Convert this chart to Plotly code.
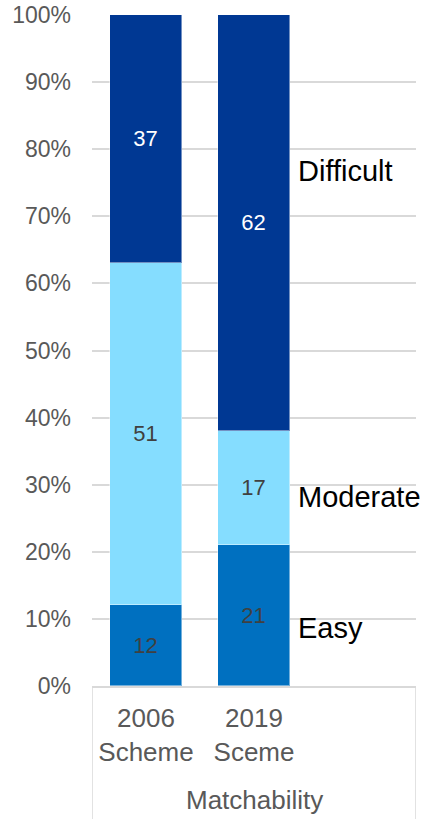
import plotly.graph_objects as go

# Share of matches by difficulty for each scheme (percent of total)
categories = ["2006<br>Scheme", "2019<br>Sceme"]
series_names = ["Easy", "Moderate", "Difficult"]
easy = [12, 21]
moderate = [51, 17]
difficult = [37, 62]
group_title = "Matchability"

series_values = [easy, moderate, difficult]
colors = {"Easy": "#0070C0", "Moderate": "#85DDFF", "Difficult": "#003893"}
text_colors = {"Easy": "#404040", "Moderate": "#404040", "Difficult": "#FFFFFF"}

x_pos = list(range(len(categories)))
bar_width = 0.667

fig = go.Figure()
for name, vals in zip(series_names, series_values):
    fig.add_trace(go.Bar(
        x=x_pos, y=vals, name=name, width=bar_width,
        marker=dict(color=colors[name], line=dict(color="rgba(255,255,255,0.45)", width=1)),
        text=[str(v) for v in vals], textposition="inside", insidetextanchor="middle",
        textangle=0, constraintext="none",
        textfont=dict(family="Liberation Sans, Arial, sans-serif", size=22, color=text_colors[name]),
        showlegend=False,
    ))

# Series names placed beside the last bar
label_y = {"Easy": 8.6, "Moderate": 28.2, "Difficult": 76.7}
last = x_pos[-1]
for name in series_names:
    fig.add_annotation(
        x=last + bar_width / 2, y=label_y[name], xref="x", yref="y",
        text=name, showarrow=False, xanchor="left", yanchor="middle", xshift=6,
        font=dict(family="Liberation Sans, Arial, sans-serif", size=29, color="#000000"),
    )

# Group caption under the category labels
fig.add_annotation(
    x=(x_pos[0] + x_pos[-1]) / 2 + 0.5, y=-0.17, xref="x", yref="paper",
    text=group_title, showarrow=False, xanchor="center", yanchor="middle",
    font=dict(family="Liberation Sans, Arial, sans-serif", size=26, color="#595959"),
)

# Vertical separators of the grouped category axis
for xv in (-0.5, 2.5):
    fig.add_shape(type="line", xref="x", yref="paper", x0=xv, x1=xv, y0=0, y1=-0.2,
                  line=dict(color="#d9d9d9", width=1.5))

fig.update_layout(
    barmode="stack",
    width=424, height=819,
    margin=dict(l=92, r=8, t=15, b=133),
    plot_bgcolor="white", paper_bgcolor="white",
    bargap=0,
    font=dict(family="Liberation Sans, Arial, sans-serif"),
)
fig.update_xaxes(
    range=[-0.5, 2.5], tickmode="array", tickvals=x_pos, ticktext=categories,
    showgrid=False, zeroline=False, showline=True, linecolor="#d9d9d9", linewidth=1.5,
    ticks="", tickfont=dict(size=26, color="#595959"), ticklabelstandoff=8,
    automargin=False,
)
fig.update_yaxes(
    range=[0, 100], dtick=10, ticksuffix="%", showgrid=True, gridcolor="#d9d9d9",
    gridwidth=1.5, zeroline=False, showline=False, ticks="",
    tickfont=dict(size=23, color="#595959"), ticklabelstandoff=20,
    automargin=False,
)

fig.write_html("out.html")
